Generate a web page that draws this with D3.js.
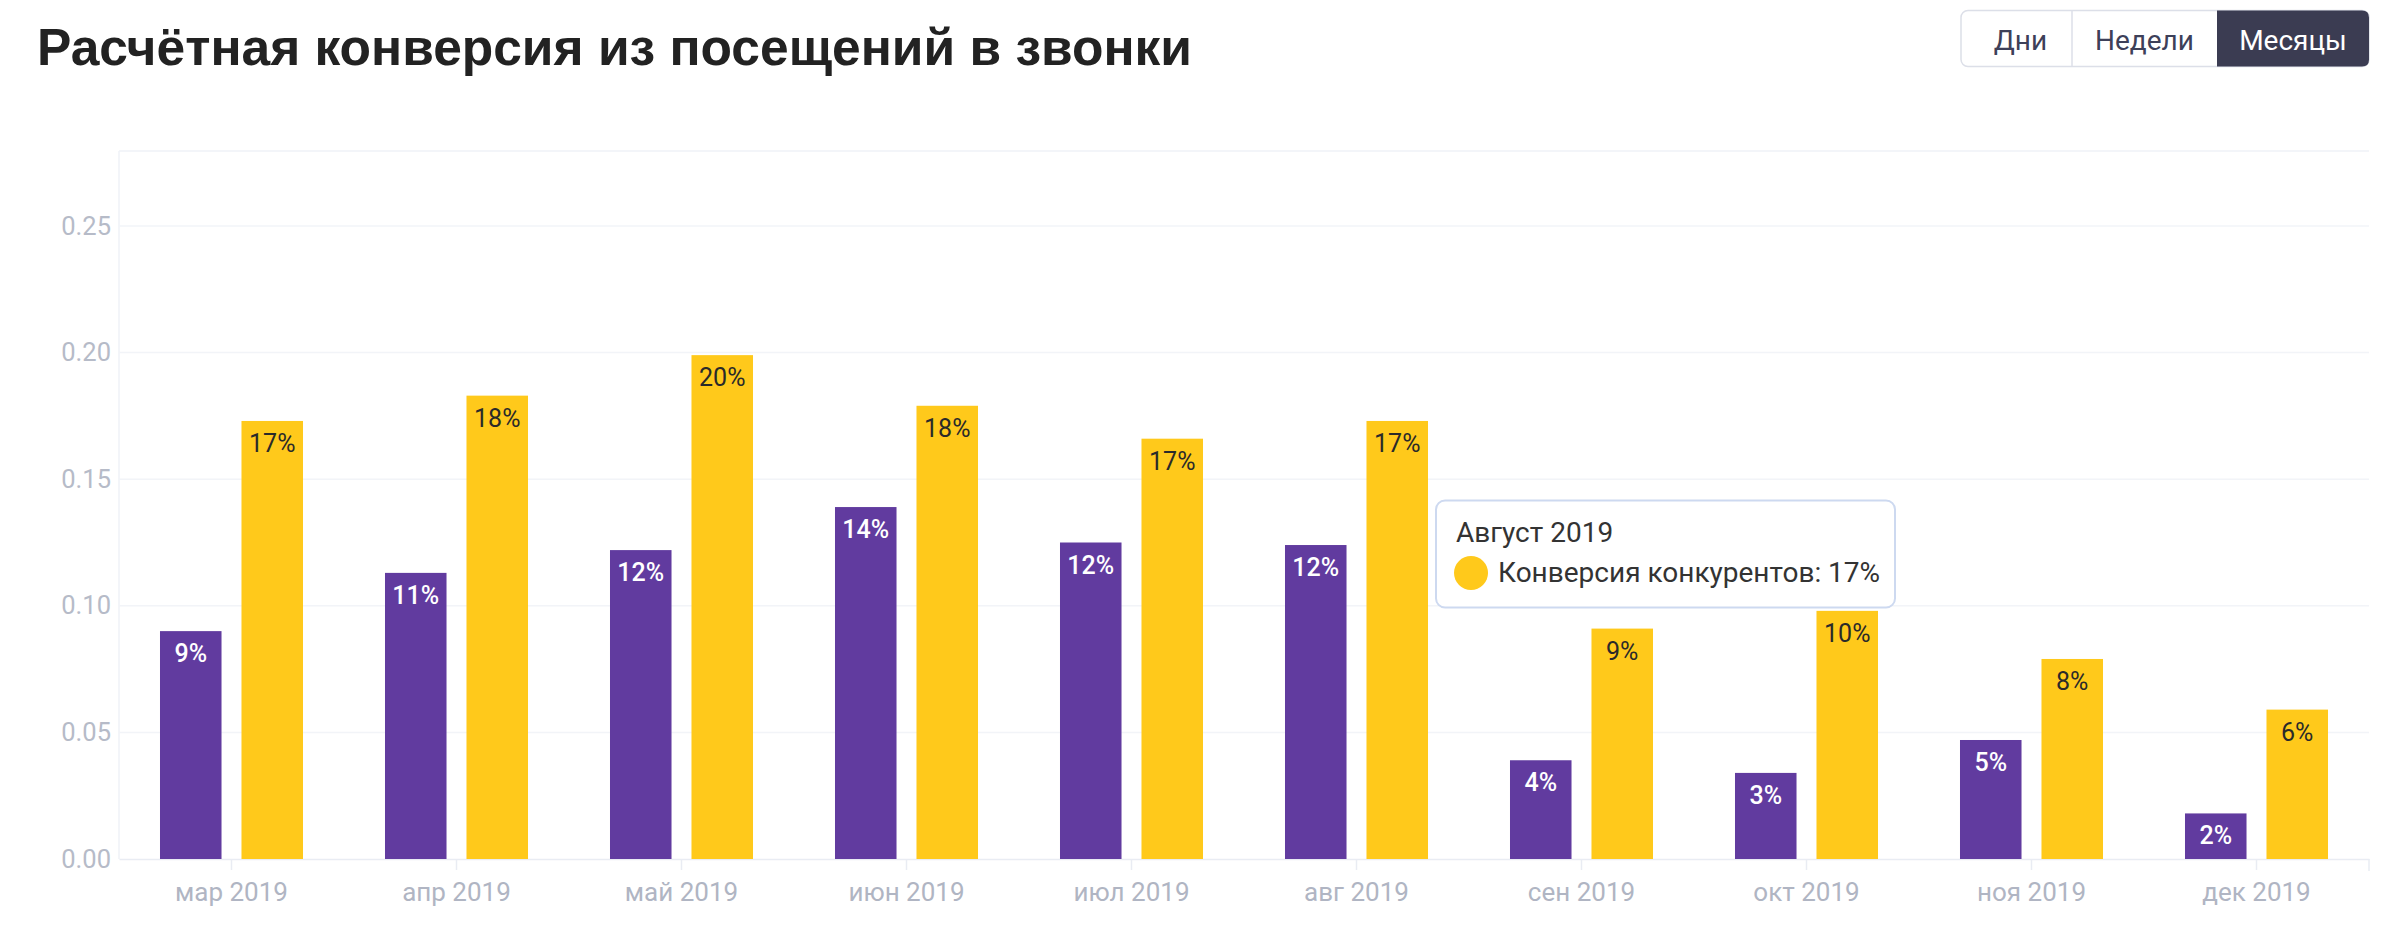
<!DOCTYPE html>
<html>
<head>
<meta charset="utf-8">
<script src="https://cdn.jsdelivr.net/npm/d3@7/dist/d3.min.js"></script>
<style>
  html, body { margin: 0; padding: 0; background: #ffffff; }
  svg { display: block; font-family: Roboto, "Noto Sans", sans-serif; }
</style>
</head>
<body>
<svg id="chart" width="2400" height="929"></svg>
<script>
// ---- data ----
const categories = ["мар 2019","апр 2019","май 2019","июн 2019","июл 2019","авг 2019","сен 2019","окт 2019","ноя 2019","дек 2019"];
const ownConversion = [0.090, 0.113, 0.122, 0.139, 0.125, 0.124, 0.039, 0.034, 0.047, 0.018];
const competitorConversion = [0.173, 0.183, 0.199, 0.179, 0.166, 0.173, 0.091, 0.098, 0.079, 0.059];
const ownLabels = ["9%","11%","12%","14%","12%","12%","4%","3%","5%","2%"];
const competitorLabels = ["17%","18%","20%","18%","17%","17%","9%","10%","8%","6%"];
const yTicks = [0, 0.05, 0.10, 0.15, 0.20, 0.25];
const yTickLabels = ["0.00","0.05","0.10","0.15","0.20","0.25"];
const periodButtons = ["Дни","Недели","Месяцы"];
const activeButton = "Месяцы";
const titleText = "Расчётная конверсия из посещений в звонки";
const tooltipTitle = "Август 2019";
const tooltipSeries = "Конверсия конкурентов";
const tooltipIndex = 5;

// ---- layout ----
const svg = d3.select("#chart");
const plot = { left: 119, right: 2369, top: 151, bottom: 859 };
const colors = { own: "#613b9f", comp: "#ffc91b" };

const x = d3.scaleBand().domain(categories).range([plot.left, plot.right]).padding(0);
const x1 = d3.scaleBand().domain(["own","comp"]).range([0, x.bandwidth()])
  .paddingInner(0.245).paddingOuter(0.503);
const y = d3.scaleLinear().domain([0, 0.25]).range([plot.bottom, 226]);

// title
svg.append("text").attr("x", 37).attr("y", 65)
  .attr("font-family", "'Liberation Sans', Arial, sans-serif")
  .attr("font-size", 51.5).attr("font-weight", 700).attr("fill", "#222222")
  .text(titleText);

// buttons
const btn = { x: 1961, y: 10.5, h: 56, widths: [111, 145, 152], r: 7 };
const bg = svg.append("g");
const totalW = d3.sum(btn.widths);
bg.append("rect").attr("x", btn.x).attr("y", btn.y).attr("width", totalW).attr("height", btn.h)
  .attr("rx", btn.r).attr("fill", "#ffffff").attr("stroke", "#dcdfe8").attr("stroke-width", 1.5);
let bx = btn.x;
periodButtons.forEach((label, i) => {
  const w = btn.widths[i];
  const active = label === activeButton;
  if (active) {
    const r = btn.r, x0 = bx, y0 = btn.y, x2 = bx + w, y2 = btn.y + btn.h;
    bg.append("path")
      .attr("d", `M${x0},${y0} H${x2 - r} Q${x2},${y0} ${x2},${y0 + r} V${y2 - r} Q${x2},${y2} ${x2 - r},${y2} H${x0} Z`)
      .attr("fill", "#3b3c52");
  }
  if (i > 0 && !active) {
    bg.append("line").attr("x1", bx).attr("x2", bx).attr("y1", btn.y).attr("y2", btn.y + btn.h)
      .attr("stroke", "#dcdfe8").attr("stroke-width", 1.5);
  }
  bg.append("text").attr("x", bx + w / 2 + (i === 0 ? 4 : 0)).attr("y", 50)
    .attr("text-anchor", "middle").attr("font-size", 28)
    .attr("fill", active ? "#ffffff" : "#3d4059").text(label);
  bx += w;
});

// plot frame and grid
const grid = svg.append("g");
grid.append("line").attr("x1", plot.left).attr("x2", plot.right).attr("y1", plot.top).attr("y2", plot.top)
  .attr("stroke", "#eff2f7").attr("stroke-width", 1.5);
grid.append("line").attr("x1", plot.left).attr("x2", plot.left).attr("y1", plot.top).attr("y2", plot.bottom)
  .attr("stroke", "#eff2f7").attr("stroke-width", 1.5);
grid.selectAll("line.g").data(yTicks.filter(d => d > 0)).join("line").attr("class", "g")
  .attr("x1", plot.left).attr("x2", plot.right)
  .attr("y1", d => y(d)).attr("y2", d => y(d))
  .attr("stroke", "#f2f4f8").attr("stroke-width", 1.5);

// y axis labels
const yAxis = d3.axisLeft(y).tickValues(yTicks).tickSize(0).tickPadding(8)
  .tickFormat((d, i) => yTickLabels[i]);
const yg = svg.append("g").attr("transform", `translate(${plot.left},0)`).call(yAxis);
yg.select(".domain").remove();
yg.selectAll("text").attr("font-family", "Roboto").attr("font-size", 25.5).attr("fill", "#b6bbc8");

// x axis
const xAxis = d3.axisBottom(x).tickSizeInner(11).tickSizeOuter(0).tickPadding(13);
const xg = svg.append("g").attr("transform", `translate(0,${plot.bottom})`).call(xAxis);
xg.select(".domain").attr("stroke", "#e9ecf3").attr("stroke-width", 1.5);
xg.selectAll(".tick line").attr("stroke", "#e9ecf3").attr("stroke-width", 1.5);
xg.selectAll("text").attr("font-family", "Roboto").attr("font-size", 26).attr("fill", "#b0b5c3");
xg.append("line").attr("x1", plot.right).attr("x2", plot.right).attr("y1", 0).attr("y2", 12)
  .attr("stroke", "#e9ecf3").attr("stroke-width", 1.5);

// bars
const rows = categories.map((c, i) => ({
  cat: c,
  vals: [
    { key: "own", v: ownConversion[i], label: ownLabels[i] },
    { key: "comp", v: competitorConversion[i], label: competitorLabels[i] }
  ]
}));
const groups = svg.append("g").selectAll("g").data(rows).join("g")
  .attr("transform", d => `translate(${x(d.cat)},0)`);
groups.selectAll("rect").data(d => d.vals).join("rect")
  .attr("x", d => x1(d.key)).attr("width", x1.bandwidth())
  .attr("y", d => y(d.v)).attr("height", d => y(0) - y(d.v))
  .attr("fill", d => colors[d.key]);
groups.selectAll("text").data(d => d.vals).join("text")
  .attr("x", d => x1(d.key) + x1.bandwidth() / 2)
  .attr("y", d => y(d.v) + 31)
  .attr("text-anchor", "middle").attr("font-size", 25)
  .attr("font-weight", d => d.key === "own" ? 500 : 400)
  .attr("fill", d => d.key === "own" ? "#ffffff" : "#2a2a2a")
  .text(d => d.label);

// tooltip
const tipX = x(categories[tooltipIndex]) + x1("comp") + x1.bandwidth() + 8;
const tipY = 500.5;
const tip = svg.append("g").attr("transform", `translate(${tipX},${tipY})`);
tip.append("rect").attr("x", 0).attr("y", 0).attr("width", 459).attr("height", 107)
  .attr("rx", 9).attr("fill", "#ffffff").attr("stroke", "#cdd9f0").attr("stroke-width", 2);
tip.append("text").attr("x", 20).attr("y", 41).attr("font-size", 28).attr("fill", "#333333")
  .text(tooltipTitle);
tip.append("circle").attr("cx", 35).attr("cy", 72.5).attr("r", 17).attr("fill", colors.comp);
tip.append("text").attr("x", 62).attr("y", 81).attr("font-size", 28).attr("fill", "#333333")
  .text(`${tooltipSeries}: ${competitorLabels[tooltipIndex]}`);
</script>
</body>
</html>
